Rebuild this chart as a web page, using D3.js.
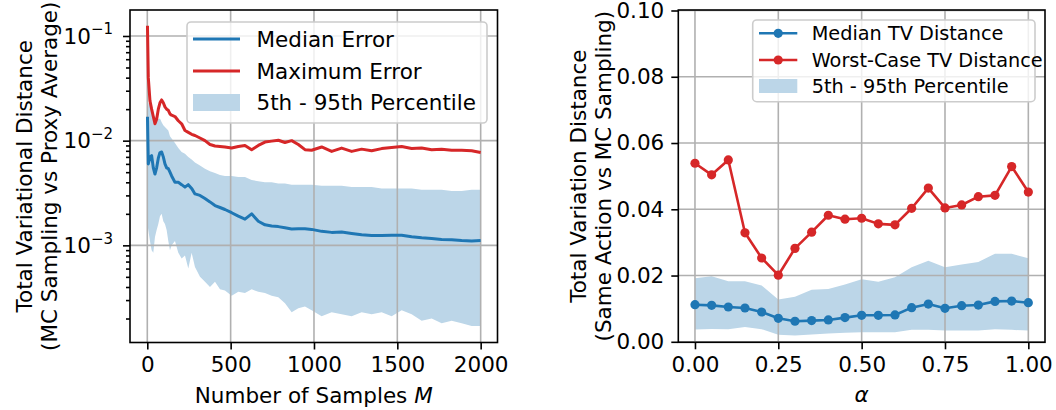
<!DOCTYPE html>
<html>
<head>
<meta charset="utf-8">
<script src="https://cdn.jsdelivr.net/npm/d3@7"></script>
<style>
  html, body { margin: 0; padding: 0; background: #ffffff; }
  svg { display: block; font-family: "DejaVu Sans", sans-serif; }
</style>
</head>
<body>
<svg id="chart" width="1056" height="410"></svg>
<script>
// ---- Left panel: convergence of TV distance with number of MC samples ----
const sampleM = [1, 6, 16, 26, 36, 46, 56, 66, 76, 86, 96, 106, 116, 126, 136, 146,
  166, 186, 206, 226, 246, 266, 286, 316, 346, 376, 406, 436, 466, 506, 546, 586,
  626, 666, 706, 746, 786, 826, 866, 906, 946, 986, 1046, 1106, 1166, 1226, 1286,
  1346, 1406, 1466, 1526, 1586, 1646, 1706, 1766, 1826, 1886, 1946, 2000];
const medianError = [0.0169, 0.0060, 0.0070, 0.0072, 0.0055, 0.0048, 0.0055, 0.0068,
  0.0077, 0.0078, 0.0070, 0.0060, 0.0055, 0.0054, 0.0050, 0.0046, 0.0040, 0.0040,
  0.0038, 0.0036, 0.0038, 0.0035, 0.0031, 0.0030, 0.0028, 0.0026, 0.0024, 0.0023,
  0.0022, 0.00205, 0.0019, 0.00178, 0.0020, 0.0017, 0.00157, 0.00153, 0.00151,
  0.00147, 0.00143, 0.00144, 0.00144, 0.00142, 0.00136, 0.00133, 0.00134, 0.00130,
  0.00126, 0.00124, 0.00124, 0.00125, 0.00125, 0.00121, 0.00118, 0.00116, 0.00114,
  0.00113, 0.00111, 0.00110, 0.00111];
const maximumError = [0.125, 0.040, 0.024, 0.020, 0.017, 0.0145, 0.016, 0.020, 0.023,
  0.0245, 0.023, 0.021, 0.020, 0.0195, 0.018, 0.0175, 0.017, 0.0155, 0.0145, 0.0125,
  0.0120, 0.0115, 0.0112, 0.0106, 0.0100, 0.0092, 0.0089, 0.0088, 0.0087, 0.0085,
  0.0088, 0.0090, 0.0082, 0.0090, 0.0097, 0.0099, 0.0101, 0.0096, 0.0100, 0.0092,
  0.0082, 0.0081, 0.0087, 0.0079, 0.0085, 0.0079, 0.0083, 0.0080, 0.0084, 0.0086,
  0.0088, 0.0084, 0.0085, 0.0082, 0.0083, 0.0081, 0.0081, 0.0080, 0.0077];
const p95Error = [0.0170, 0.0230, 0.0220, 0.0190, 0.0175, 0.0170, 0.0165, 0.0160,
  0.0163, 0.0150, 0.0140, 0.0135, 0.0130, 0.0125, 0.0110, 0.0105, 0.0095, 0.0085,
  0.0078, 0.0075, 0.0070, 0.0066, 0.0062, 0.0058, 0.0054, 0.0051, 0.0049, 0.0047,
  0.0046, 0.0046, 0.0045, 0.0045, 0.0042, 0.0041, 0.0040, 0.0040, 0.0039, 0.0039,
  0.0038, 0.0038, 0.0038, 0.0038, 0.0037, 0.0037, 0.0037, 0.0036, 0.0036, 0.0036,
  0.0035, 0.0035, 0.0035, 0.0035, 0.0034, 0.0034, 0.0034, 0.0033, 0.0033, 0.0034, 0.0034];
const p5Error = [0.0016, 0.0014, 0.0011, 0.0009, 0.00085, 0.0012, 0.0014, 0.0016,
  0.0019, 0.0020, 0.0017, 0.0016, 0.0014, 0.0011, 0.0009, 0.0010, 0.0011, 0.00085,
  0.00075, 0.0008, 0.0006, 0.00085, 0.00062, 0.0005, 0.00045, 0.0004, 0.00045,
  0.00038, 0.00037, 0.00033, 0.00036, 0.00035, 0.00038, 0.00036, 0.00035, 0.00033,
  0.00032, 0.00028, 0.00023, 0.00025, 0.00026, 0.00024, 0.00021, 0.00023, 0.00022,
  0.00021, 0.00023, 0.00022, 0.00023, 0.00021, 0.00024, 0.00022, 0.00019, 0.00020,
  0.00018, 0.00019, 0.00018, 0.00017, 0.00017];
const leftXTicks = [0, 500, 1000, 1500, 2000];
const leftYTickExps = [-3, -2, -1];

// ---- Right panel: TV distance as a function of alpha ----
const alphaValues = [0.00, 0.05, 0.10, 0.15, 0.20, 0.25, 0.30, 0.35, 0.40, 0.45, 0.50,
  0.55, 0.60, 0.65, 0.70, 0.75, 0.80, 0.85, 0.90, 0.95, 1.00];
const medianTV = [0.0112, 0.0110, 0.0105, 0.0102, 0.0090, 0.0071, 0.0062, 0.0064,
  0.0066, 0.0073, 0.0080, 0.0080, 0.0081, 0.0103, 0.0114, 0.0101, 0.0109, 0.0111,
  0.0122, 0.0123, 0.0118];
const worstTV = [0.0539, 0.0504, 0.0549, 0.0329, 0.0253, 0.0201, 0.0282, 0.0331,
  0.0382, 0.0370, 0.0373, 0.0356, 0.0353, 0.0403, 0.0464, 0.0404, 0.0413, 0.0438,
  0.0442, 0.0529, 0.0452];
const p95TV = [0.0192, 0.0198, 0.0183, 0.0183, 0.0170, 0.0128, 0.0136, 0.0157,
  0.0159, 0.0173, 0.0189, 0.0181, 0.0195, 0.0225, 0.0245, 0.0225, 0.0233, 0.0241,
  0.0266, 0.0266, 0.0252];
const p5TV = [0.0037, 0.0039, 0.0038, 0.0045, 0.0038, 0.0021, 0.0019, 0.0022, 0.0025,
  0.0027, 0.0029, 0.0029, 0.0029, 0.0036, 0.0036, 0.0034, 0.0034, 0.0034, 0.0038,
  0.0036, 0.0034];
const rightXTicks = [0.00, 0.25, 0.50, 0.75, 1.00];
const rightYTicks = [0.00, 0.02, 0.04, 0.06, 0.08, 0.10];

const BLUE = "#1f77b4", RED = "#d62728", BAND = "#bcd6e8", GRID = "#b0b0b0";
const FONT = 21.5;
const LEG_FONT_R = 19.3;

const svg = d3.select("#chart");

function addClip(id, x0, y0, x1, y1) {
  svg.append("clipPath").attr("id", id)
    .append("rect").attr("x", x0).attr("y", y0).attr("width", x1 - x0).attr("height", y1 - y0);
}

// ================= Left panel =================
const L = { x0: 130, x1: 497.5, y0: 10, y1: 342.5 };
const xL = d3.scaleLinear().domain([-103.8, 2101]).range([L.x0, L.x1]);
const yL = d3.scaleLog().domain([1.18e-4, 0.1771]).range([L.y1, L.y0]);
addClip("clipL", L.x0, L.y0, L.x1, L.y1);

const gL = svg.append("g");
const plotL = gL.append("g").attr("clip-path", "url(#clipL)");

const leftRows = sampleM.map((m, i) => ({ m, med: medianError[i], max: maximumError[i], lo: p5Error[i], hi: p95Error[i] }));

plotL.append("path").datum(leftRows)
  .attr("fill", BAND).attr("stroke", "none")
  .attr("d", d3.area().x(d => xL(d.m)).y0(d => yL(d.lo)).y1(d => yL(d.hi)));

// grid
leftXTicks.forEach(t => plotL.append("line").attr("x1", xL(t)).attr("x2", xL(t))
  .attr("y1", L.y0).attr("y2", L.y1).attr("stroke", GRID).attr("stroke-width", 1.6));
leftYTickExps.forEach(e => plotL.append("line").attr("y1", yL(Math.pow(10, e))).attr("y2", yL(Math.pow(10, e)))
  .attr("x1", L.x0).attr("x2", L.x1).attr("stroke", GRID).attr("stroke-width", 1.6));

plotL.append("path").datum(leftRows)
  .attr("fill", "none").attr("stroke", BLUE).attr("stroke-width", 3).attr("stroke-linejoin", "round")
  .attr("d", d3.line().x(d => xL(d.m)).y(d => yL(d.med)));
plotL.append("path").datum(leftRows)
  .attr("fill", "none").attr("stroke", RED).attr("stroke-width", 3).attr("stroke-linejoin", "round")
  .attr("d", d3.line().x(d => xL(d.m)).y(d => yL(d.max)));

// axes
gL.append("g").attr("transform", `translate(0,${L.y1})`)
  .call(d3.axisBottom(xL).tickValues(leftXTicks).tickFormat(d3.format("d")).tickSize(7).tickPadding(7));
gL.append("g").attr("transform", `translate(${L.x0},0)`)
  .call(d3.axisLeft(yL).tickValues(leftYTickExps.map(e => Math.pow(10, e))).tickFormat("").tickSize(7));
// minor log ticks
const minorVals = [];
for (let e = -4; e <= -1; e++) for (let k = 2; k <= 9; k++) {
  const v = k * Math.pow(10, e);
  if (v >= yL.domain()[0] && v <= yL.domain()[1]) minorVals.push(v);
}
gL.append("g").attr("transform", `translate(${L.x0},0)`)
  .call(d3.axisLeft(yL).tickValues(minorVals).tickFormat("").tickSize(4));

// left y tick labels 10^e
leftYTickExps.forEach(e => {
  const t = gL.append("text").attr("x", 113).attr("y", yL(Math.pow(10, e)) + 7.8)
    .attr("text-anchor", "end").attr("font-size", FONT).attr("fill", "#000");
  t.append("tspan").text("10");
  t.append("tspan").attr("dy", -9.5).attr("font-size", 15).text("\u2212" + Math.abs(e));
});

// left axis labels
const xlabL = gL.append("text").attr("x", (L.x0 + L.x1) / 2).attr("y", 402.5)
  .attr("text-anchor", "middle").attr("font-size", FONT).attr("fill", "#000");
xlabL.append("tspan").text("Number of Samples ");
xlabL.append("tspan").attr("font-style", "italic").text("M");

const ylabL = gL.append("text").attr("transform", `translate(0,${(L.y0 + L.y1) / 2}) rotate(-90)`)
  .attr("text-anchor", "middle").attr("font-size", FONT).attr("fill", "#000");
ylabL.append("tspan").attr("x", 0).attr("y", 32).text("Total Variational Distance");
ylabL.append("tspan").attr("x", 0).attr("y", 57).text("(MC Sampling vs Proxy Average)");

// frame
gL.append("rect").attr("x", L.x0).attr("y", L.y0).attr("width", L.x1 - L.x0).attr("height", L.y1 - L.y0)
  .attr("fill", "none").attr("stroke", "#000").attr("stroke-width", 1.6);

// left legend
const legL = gL.append("g");
legL.append("rect").attr("x", 187).attr("y", 22).attr("width", 300).attr("height", 101).attr("rx", 4)
  .attr("fill", "#fff").attr("fill-opacity", 0.8).attr("stroke", "#cccccc").attr("stroke-width", 1.6);
const legLItems = [
  { label: "Median Error", type: "line", color: BLUE, cy: 39 },
  { label: "Maximum Error", type: "line", color: RED, cy: 71 },
  { label: "5th - 95th Percentile", type: "patch", color: BAND, cy: 102.5 }
];
legLItems.forEach(it => {
  if (it.type === "line") {
    legL.append("line").attr("x1", 193).attr("x2", 240).attr("y1", it.cy).attr("y2", it.cy)
      .attr("stroke", it.color).attr("stroke-width", 3);
  } else {
    legL.append("rect").attr("x", 193).attr("y", it.cy - 8.5).attr("width", 47).attr("height", 17)
      .attr("fill", it.color);
  }
  legL.append("text").attr("x", 256.5).attr("y", it.cy + 7.8).attr("font-size", FONT)
    .attr("fill", "#000").text(it.label);
});

// ================= Right panel =================
const R = { x0: 678.3, x1: 1045, y0: 10, y1: 342.3 };
const xR = d3.scaleLinear().domain([-0.05, 1.05]).range([R.x0, R.x1]);
const yR = d3.scaleLinear().domain([0, 0.1]).range([341.8, 10.5]);
addClip("clipR", R.x0, R.y0, R.x1, R.y1);

const gR = svg.append("g");
const plotR = gR.append("g").attr("clip-path", "url(#clipR)");
const rightRows = alphaValues.map((a, i) => ({ a, med: medianTV[i], worst: worstTV[i], lo: p5TV[i], hi: p95TV[i] }));

plotR.append("path").datum(rightRows)
  .attr("fill", BAND).attr("stroke", "none")
  .attr("d", d3.area().x(d => xR(d.a)).y0(d => yR(d.lo)).y1(d => yR(d.hi)));

rightXTicks.forEach(t => plotR.append("line").attr("x1", xR(t)).attr("x2", xR(t))
  .attr("y1", R.y0).attr("y2", R.y1).attr("stroke", GRID).attr("stroke-width", 1.6));
rightYTicks.forEach(t => plotR.append("line").attr("y1", yR(t)).attr("y2", yR(t))
  .attr("x1", R.x0).attr("x2", R.x1).attr("stroke", GRID).attr("stroke-width", 1.6));

[["med", BLUE], ["worst", RED]].forEach(([key, color]) => {
  plotR.append("path").datum(rightRows)
    .attr("fill", "none").attr("stroke", color).attr("stroke-width", 2.6).attr("stroke-linejoin", "round")
    .attr("d", d3.line().x(d => xR(d.a)).y(d => yR(d[key])));
  plotR.selectAll(null).data(rightRows).enter().append("circle")
    .attr("cx", d => xR(d.a)).attr("cy", d => yR(d[key])).attr("r", 4.6).attr("fill", color);
});

gR.append("g").attr("transform", `translate(0,${R.y1})`)
  .call(d3.axisBottom(xR).tickValues(rightXTicks).tickFormat(d3.format(".2f")).tickSize(7).tickPadding(7));
gR.append("g").attr("transform", `translate(${R.x0},0)`)
  .call(d3.axisLeft(yR).tickValues(rightYTicks).tickFormat(d3.format(".2f")).tickSize(7).tickPadding(7));

gR.append("text").attr("x", (R.x0 + R.x1) / 2).attr("y", 401.5).attr("text-anchor", "middle")
  .attr("font-size", FONT).attr("font-style", "italic").attr("fill", "#000").text("\u03b1");

const ylabR = gR.append("text").attr("transform", `translate(0,${(R.y0 + R.y1) / 2}) rotate(-90)`)
  .attr("text-anchor", "middle").attr("font-size", FONT).attr("fill", "#000");
ylabR.append("tspan").attr("x", 0).attr("y", 586).text("Total Variation Distance");
ylabR.append("tspan").attr("x", 0).attr("y", 611).text("(Same Action vs MC Sampling)");

gR.append("rect").attr("x", R.x0).attr("y", R.y0).attr("width", R.x1 - R.x0).attr("height", R.y1 - R.y0)
  .attr("fill", "none").attr("stroke", "#000").attr("stroke-width", 1.6);

// right legend
const legR = gR.append("g");
legR.append("rect").attr("x", 752.7).attr("y", 20).attr("width", 282.3).attr("height", 81.7).attr("rx", 4)
  .attr("fill", "#fff").attr("fill-opacity", 0.8).attr("stroke", "#cccccc").attr("stroke-width", 1.6);
const legRItems = [
  { label: "Median TV Distance", type: "line", color: BLUE, cy: 33.3 },
  { label: "Worst-Case TV Distance", type: "line", color: RED, cy: 60 },
  { label: "5th - 95th Percentile", type: "patch", color: BAND, cy: 86 }
];
legRItems.forEach(it => {
  if (it.type === "line") {
    legR.append("line").attr("x1", 759).attr("x2", 797.3).attr("y1", it.cy).attr("y2", it.cy)
      .attr("stroke", it.color).attr("stroke-width", 2.6);
    legR.append("circle").attr("cx", 778.2).attr("cy", it.cy).attr("r", 4.6).attr("fill", it.color);
  } else {
    legR.append("rect").attr("x", 759).attr("y", it.cy - 7).attr("width", 38.3).attr("height", 14)
      .attr("fill", it.color);
  }
  legR.append("text").attr("x", 811.7).attr("y", it.cy + 7).attr("font-size", LEG_FONT_R)
    .attr("fill", "#000").text(it.label);
});

// shared axis styling
svg.selectAll(".tick text").attr("font-size", FONT).attr("fill", "#000")
  .attr("font-family", "DejaVu Sans, sans-serif");
svg.selectAll(".tick line").attr("stroke", "#000").attr("stroke-width", 1.6);
svg.selectAll(".domain").attr("stroke", "none");
</script>
</body>
</html>
